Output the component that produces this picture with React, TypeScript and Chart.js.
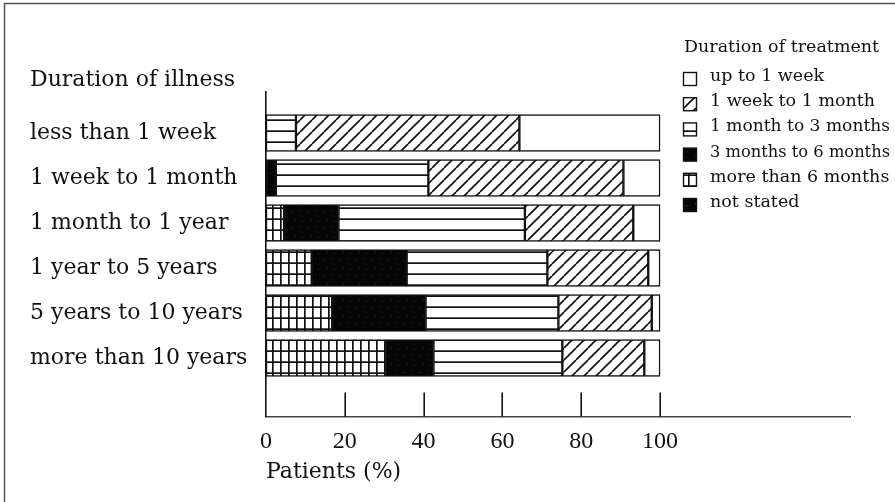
import React, { useEffect, useRef } from "react";
import { Chart, registerables } from "chart.js";

Chart.register(...registerables);

// ---- data ----
const illnessDurations = [
  "less than 1 week",
  "1 week to 1 month",
  "1 month to 1 year",
  "1 year to 5 years",
  "5 years to 10 years",
  "more than 10 years",
];
const moreThan6Months = [0, 0, 4.6, 11.6, 16.8, 30.3];
const months3to6 = [0, 2.5, 13.8, 24.1, 23.7, 12.2];
const months1to3 = [7.6, 38.7, 47.3, 35.7, 33.7, 32.7];
const week1toMonth1 = [56.7, 49.5, 27.5, 25.6, 23.7, 20.8];
const upToWeek1 = [35.7, 9.3, 6.8, 3.0, 2.1, 4.0];
const notStated = [0, 0, 0, 0, 0, 0];
const xTickValues = [0, 20, 40, 60, 80, 100];
const yTitle = "Duration of illness";
const xTitle = "Patients (%)";
const legendTitle = "Duration of treatment";

const SERIF = '"DejaVu Serif", serif';
const TICKSERIF = '"Liberation Serif", serif';
const INK = "#111";

type Kind = "white" | "diag" | "horiz" | "dark" | "grid" | "speck";

function makePattern(kind: Kind): CanvasPattern | string {
  if (kind === "white") return "#ffffff";
  const c = document.createElement("canvas");
  let w = 8, h = 11;
  if (kind === "diag") { w = 12; h = 12; }
  if (kind === "dark" || kind === "speck") { w = 16; h = 16; }
  c.width = w; c.height = h;
  const g = c.getContext("2d")!;
  if (kind === "dark" || kind === "speck") {
    g.fillStyle = "#060606";
    g.fillRect(0, 0, w, h);
    g.fillStyle = kind === "dark" ? "#2c2c2c" : "#4a4a4a";
    const dots = [[3, 4], [11, 2], [7, 11], [14, 13]];
    for (const [x, y] of dots) g.fillRect(x, y, 1, 1);
  } else {
    g.fillStyle = "#ffffff";
    g.fillRect(0, 0, w, h);
    g.fillStyle = INK;
    g.strokeStyle = INK;
    if (kind === "diag") {
      g.lineWidth = 1.7;
      for (const k of [-12, 0, 12]) {
        g.beginPath();
        g.moveTo(k, 12);
        g.lineTo(k + 12, 0);
        g.stroke();
      }
    } else if (kind === "horiz") {
      g.fillRect(0, 9.3, w, 1.7);
    } else if (kind === "grid") {
      g.fillRect(0, 9.3, w, 1.7);
      g.fillRect(0, 0, 1.7, h);
    }
  }
  const ctx = document.createElement("canvas").getContext("2d")!;
  return ctx.createPattern(c, "repeat")!;
}

const seriesDefs: { label: string; data: number[]; kind: Kind }[] = [
  { label: "more than 6 months", data: moreThan6Months, kind: "grid" },
  { label: "3 months to 6 months", data: months3to6, kind: "dark" },
  { label: "1 month to 3 months", data: months1to3, kind: "horiz" },
  { label: "1 week to 1 month", data: week1toMonth1, kind: "diag" },
  { label: "up to 1 week", data: upToWeek1, kind: "white" },
  { label: "not stated", data: notStated, kind: "speck" },
];
const legendOrder = [
  "up to 1 week",
  "1 week to 1 month",
  "1 month to 3 months",
  "3 months to 6 months",
  "more than 6 months",
  "not stated",
];

const decorPlugin = {
  id: "decor",
  beforeDraw(chart: any) {
    const { ctx, width, height } = chart;
    ctx.save();
    ctx.fillStyle = "#ffffff";
    ctx.fillRect(0, 0, width, height);
    ctx.strokeStyle = "#555";
    ctx.lineWidth = 1.5;
    ctx.beginPath();
    ctx.moveTo(4.5, height);
    ctx.lineTo(4.5, 3.5);
    ctx.lineTo(width, 3.5);
    ctx.stroke();
    ctx.restore();
  },
  afterDraw(chart: any) {
    const { ctx, chartArea } = chart;
    const xs = chart.scales.x;
    ctx.save();
    // upward tick marks
    ctx.strokeStyle = INK;
    ctx.lineWidth = 1.6;
    for (const v of xTickValues) {
      if (v === 0) continue;
      const px = Math.round(xs.getPixelForValue(v)) + 0.2;
      ctx.beginPath();
      ctx.moveTo(px, chartArea.bottom - 24);
      ctx.lineTo(px, chartArea.bottom);
      ctx.stroke();
    }
    // y heading
    ctx.fillStyle = INK;
    ctx.font = `22px ${SERIF}`;
    ctx.textAlign = "left";
    ctx.textBaseline = "alphabetic";
    ctx.fillText(yTitle, 30, 86);
    // legend
    ctx.font = `17.5px ${SERIF}`;
    ctx.fillText(legendTitle, 684, 52);
    legendOrder.forEach((lab, i) => {
      const ds = chart.data.datasets.find((d: any) => d.label === lab);
      const cy = 79.5 + i * 25.2;
      ctx.fillStyle = ds.backgroundColor;
      ctx.fillRect(683.5, cy - 7, 13, 13);
      ctx.strokeStyle = INK;
      ctx.lineWidth = 1.4;
      ctx.strokeRect(683.5, cy - 7, 13, 13);
      ctx.fillStyle = INK;
      ctx.fillText(lab, 710, cy + 1.5, 890 - 710);
    });
    ctx.restore();
  },
};

export default function App() {
  const ref = useRef<HTMLCanvasElement>(null);
  useEffect(() => {
    if (!ref.current) return;
    const datasets = seriesDefs.map((s) => ({
      label: s.label,
      data: s.data,
      backgroundColor: makePattern(s.kind),
      borderColor: INK,
      borderWidth: 1.5,
      borderSkipped: false,
      barThickness: 37,
    }));
    const chart = new Chart(ref.current, {
      type: "bar",
      data: { labels: illnessDurations, datasets: datasets as any },
      options: {
        indexAxis: "y",
        animation: false,
        responsive: false,
        devicePixelRatio: 1,
        layout: { padding: { left: 30, right: 45, top: 92, bottom: 0 } },
        plugins: { legend: { display: false }, tooltip: { enabled: false } },
        scales: {
          x: {
            type: "linear",
            stacked: true,
            min: 0,
            max: 148.2,
            afterBuildTicks: (s: any) => {
              s.ticks = xTickValues.map((v) => ({ value: v }));
            },
            afterFit: (s: any) => {
              s.height = 85.5;
            },
            ticks: {
              font: { family: TICKSERIF, size: 24 },
              color: INK,
              padding: 11,
              maxRotation: 0,
              autoSkip: false,
            },
            grid: { display: false, drawTicks: false },
            border: { display: true, color: "#444", width: 1.6 },
            title: {
              display: true,
              text: xTitle,
              align: "start",
              color: INK,
              font: { family: SERIF, size: 22 },
              padding: { top: 0, bottom: 17 },
            },
          },
          y: {
            type: "category",
            stacked: true,
            afterBuildTicks: (s: any) => {
              s._startValue = -0.911;
              s._valueRange = 7.211;
            },
            afterFit: (s: any) => {
              s.width = 236;
            },
            ticks: {
              crossAlign: "far",
              autoSkip: false,
              color: INK,
              font: { family: SERIF, size: 22 },
            },
            grid: { display: false, drawTicks: false },
            border: { display: true, color: INK, width: 1.6 },
          },
        },
      } as any,
      plugins: [decorPlugin],
    });
    return () => chart.destroy();
  }, []);
  return (
    <div style={{ position: "fixed", left: 0, top: 0, width: 895, height: 502 }}>
      <canvas ref={ref} width={895} height={502} />
    </div>
  );
}
